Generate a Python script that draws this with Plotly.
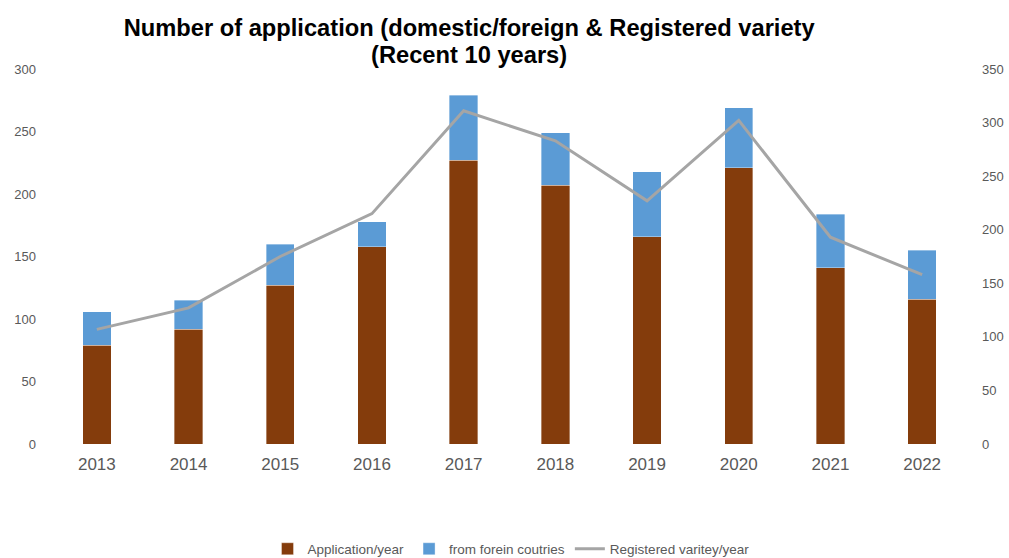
import plotly.graph_objects as go

years = ["2013", "2014", "2015", "2016", "2017", "2018", "2019", "2020", "2021", "2022"]
domestic = [79, 92, 127, 158, 227, 207, 166, 221, 141, 116]
foreign = [27, 23, 33, 20, 52, 42, 52, 48, 43, 39]
registered = [107, 127, 175, 215, 311, 283, 227, 302, 193, 158]

title_line1 = "Number of application (domestic/foreign & Registered variety"
title_line2 = "(Recent 10 years)"

FONT = "Liberation Sans, Arial, sans-serif"
GREY_TEXT = "#595959"
TITLE_FONT = dict(family=FONT, size=23.7, color="black", weight="bold")

fig = go.Figure()
fig.add_trace(go.Bar(
    x=years, y=domestic, name="Application/year",
    marker=dict(color="#843C0C", line=dict(color="rgba(255,255,255,0.6)", width=0.6)),
))
fig.add_trace(go.Bar(
    x=years, y=foreign, name="from forein coutries",
    marker=dict(color="#5B9BD5", line=dict(color="rgba(255,255,255,0.6)", width=0.6)),
))
fig.add_trace(go.Scatter(
    x=years, y=registered, name="Registered varitey/year", yaxis="y2",
    mode="lines", line=dict(color="#A5A5A5", width=3),
))

fig.update_layout(
    width=1009, height=558,
    paper_bgcolor="white", plot_bgcolor="white",
    margin=dict(l=51, r=41, t=69, b=114, autoexpand=False),
    barmode="stack", bargap=0.69,
    title=dict(
        text=title_line1, font=TITLE_FONT,
        x=0.465, xref="container", xanchor="center",
        y=1 - 28 / 558, yref="container", yanchor="middle",
    ),
    annotations=[dict(
        text=title_line2, font=TITLE_FONT, showarrow=False,
        x=0.465, xref="paper", xanchor="center",
        y=1 - 55 / 558, yref="paper", yanchor="middle",
    )],
    xaxis=dict(
        type="category", showgrid=False, showline=False, zeroline=False,
        tickfont=dict(family=FONT, size=17, color=GREY_TEXT),
        ticks="", ticklabelstandoff=8,
    ),
    yaxis=dict(
        range=[0, 300], dtick=50, showgrid=False, showline=False, zeroline=False,
        tickfont=dict(family=FONT, size=13, color=GREY_TEXT),
        ticks="", ticklabelstandoff=14,
    ),
    yaxis2=dict(
        range=[0, 350], dtick=50, overlaying="y", side="right",
        showgrid=False, showline=False, zeroline=False,
        tickfont=dict(family=FONT, size=13, color=GREY_TEXT),
        ticks="", ticklabelstandoff=13,
    ),
    legend=dict(
        orientation="h", x=511 / 1009, xref="container", xanchor="center",
        y=1 - 549 / 558, yref="container", yanchor="middle",
        font=dict(family=FONT, size=13.5, color=GREY_TEXT),
        traceorder="normal", itemwidth=30,
    ),
    showlegend=True,
)

# place the second title line in container pixels (paper refs are relative to the plot area)
plot_top, plot_h = 69, 558 - 69 - 114
fig.layout.annotations[0].y = (558 - 114 - 55) / plot_h
fig.layout.annotations[0].x = (0.465 * 1009 - 51) / (1009 - 51 - 41)

fig.write_html("out.html")
